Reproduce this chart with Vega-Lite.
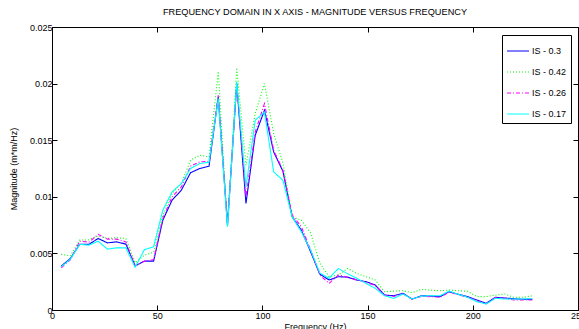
{
  "$schema": "https://vega.github.io/schema/vega-lite/v6.json",
  "width": 526,
  "height": 283,
  "autosize": {"type": "none"},
  "padding": {"left": 52, "top": 27, "right": 1, "bottom": 19},
  "background": "white",
  "title": {"text": "FREQUENCY DOMAIN IN X AXIS - MAGNITUDE VERSUS FREQUENCY", "font": "Liberation Sans", "fontSize": 9.2, "fontWeight": "normal", "color": "black", "offset": 6, "anchor": "middle"},
  "config": {
    "view": {"stroke": "black", "strokeWidth": 1},
    "axis": {"labelFont": "Liberation Sans", "labelFontSize": 9, "labelColor": "black", "titleFont": "Liberation Sans", "titleFontSize": 9, "titleFontWeight": "normal", "titleColor": "black", "domainColor": "black", "tickColor": "black", "grid": false, "tickSize": -5, "labelPadding": 4, "labelFlush": false}
  },
  "datasets": {
    "pts": [
      {"f":4.39,"s":"IS - 0.3","m":0.00388},{"f":8.78,"s":"IS - 0.3","m":0.00456},{"f":13.17,"s":"IS - 0.3","m":0.0058},{"f":17.56,"s":"IS - 0.3","m":0.0058},{"f":21.95,"s":"IS - 0.3","m":0.00632},{"f":26.34,"s":"IS - 0.3","m":0.00593},{"f":30.73,"s":"IS - 0.3","m":0.00602},{"f":35.12,"s":"IS - 0.3","m":0.00582},{"f":39.51,"s":"IS - 0.3","m":0.0039},{"f":43.9,"s":"IS - 0.3","m":0.00432},{"f":48.29,"s":"IS - 0.3","m":0.00432},{"f":52.68,"s":"IS - 0.3","m":0.00794},{"f":57.07,"s":"IS - 0.3","m":0.0097},{"f":61.46,"s":"IS - 0.3","m":0.01058},{"f":65.85,"s":"IS - 0.3","m":0.01213},{"f":70.24,"s":"IS - 0.3","m":0.0125},{"f":74.63,"s":"IS - 0.3","m":0.0127},{"f":79.02,"s":"IS - 0.3","m":0.01881},{"f":83.41,"s":"IS - 0.3","m":0.0075},{"f":87.8,"s":"IS - 0.3","m":0.02},{"f":92.19,"s":"IS - 0.3","m":0.00941},{"f":96.58,"s":"IS - 0.3","m":0.01543},{"f":100.97,"s":"IS - 0.3","m":0.01764},{"f":105.36,"s":"IS - 0.3","m":0.01396},{"f":109.75,"s":"IS - 0.3","m":0.01226},{"f":114.14,"s":"IS - 0.3","m":0.00823},{"f":118.53,"s":"IS - 0.3","m":0.00705},{"f":122.92,"s":"IS - 0.3","m":0.00514},{"f":127.31,"s":"IS - 0.3","m":0.00317},{"f":131.7,"s":"IS - 0.3","m":0.00265},{"f":136.09,"s":"IS - 0.3","m":0.00294},{"f":140.48,"s":"IS - 0.3","m":0.0029},{"f":144.87,"s":"IS - 0.3","m":0.00265},{"f":149.26,"s":"IS - 0.3","m":0.0025},{"f":153.65,"s":"IS - 0.3","m":0.00221},{"f":158.04,"s":"IS - 0.3","m":0.00132},{"f":162.43,"s":"IS - 0.3","m":0.00126},{"f":166.82,"s":"IS - 0.3","m":0.00147},{"f":171.21,"s":"IS - 0.3","m":0.00097},{"f":175.6,"s":"IS - 0.3","m":0.00126},{"f":179.99,"s":"IS - 0.3","m":0.00123},{"f":184.38,"s":"IS - 0.3","m":0.00118},{"f":188.77,"s":"IS - 0.3","m":0.00162},{"f":193.16,"s":"IS - 0.3","m":0.00138},{"f":197.55,"s":"IS - 0.3","m":0.00118},{"f":201.94,"s":"IS - 0.3","m":0.00088},{"f":206.33,"s":"IS - 0.3","m":0.00059},{"f":210.72,"s":"IS - 0.3","m":0.00112},{"f":215.11,"s":"IS - 0.3","m":0.00106},{"f":219.5,"s":"IS - 0.3","m":0.001},{"f":223.89,"s":"IS - 0.3","m":0.00094},{"f":228.28,"s":"IS - 0.3","m":0.00094},
      {"f":4.39,"s":"IS - 0.42","m":0.00491},{"f":8.78,"s":"IS - 0.42","m":0.00479},{"f":13.17,"s":"IS - 0.42","m":0.00617},{"f":17.56,"s":"IS - 0.42","m":0.0062},{"f":21.95,"s":"IS - 0.42","m":0.00655},{"f":26.34,"s":"IS - 0.42","m":0.00632},{"f":30.73,"s":"IS - 0.42","m":0.00638},{"f":35.12,"s":"IS - 0.42","m":0.00632},{"f":39.51,"s":"IS - 0.42","m":0.00417},{"f":43.9,"s":"IS - 0.42","m":0.00485},{"f":48.29,"s":"IS - 0.42","m":0.0051},{"f":52.68,"s":"IS - 0.42","m":0.00838},{"f":57.07,"s":"IS - 0.42","m":0.01029},{"f":61.46,"s":"IS - 0.42","m":0.01117},{"f":65.85,"s":"IS - 0.42","m":0.01323},{"f":70.24,"s":"IS - 0.42","m":0.01367},{"f":74.63,"s":"IS - 0.42","m":0.01352},{"f":79.02,"s":"IS - 0.42","m":0.02108},{"f":83.41,"s":"IS - 0.42","m":0.00735},{"f":87.8,"s":"IS - 0.42","m":0.0214},{"f":92.19,"s":"IS - 0.42","m":0.01279},{"f":96.58,"s":"IS - 0.42","m":0.01735},{"f":100.97,"s":"IS - 0.42","m":0.02},{"f":105.36,"s":"IS - 0.42","m":0.01558},{"f":109.75,"s":"IS - 0.42","m":0.013},{"f":114.14,"s":"IS - 0.42","m":0.0082},{"f":118.53,"s":"IS - 0.42","m":0.00794},{"f":122.92,"s":"IS - 0.42","m":0.0068},{"f":127.31,"s":"IS - 0.42","m":0.00414},{"f":131.7,"s":"IS - 0.42","m":0.00294},{"f":136.09,"s":"IS - 0.42","m":0.00309},{"f":140.48,"s":"IS - 0.42","m":0.00367},{"f":144.87,"s":"IS - 0.42","m":0.00323},{"f":149.26,"s":"IS - 0.42","m":0.00294},{"f":153.65,"s":"IS - 0.42","m":0.00265},{"f":158.04,"s":"IS - 0.42","m":0.00162},{"f":162.43,"s":"IS - 0.42","m":0.00167},{"f":166.82,"s":"IS - 0.42","m":0.0017},{"f":171.21,"s":"IS - 0.42","m":0.00153},{"f":175.6,"s":"IS - 0.42","m":0.00182},{"f":179.99,"s":"IS - 0.42","m":0.00176},{"f":184.38,"s":"IS - 0.42","m":0.0017},{"f":188.77,"s":"IS - 0.42","m":0.00176},{"f":193.16,"s":"IS - 0.42","m":0.0017},{"f":197.55,"s":"IS - 0.42","m":0.00165},{"f":201.94,"s":"IS - 0.42","m":0.00118},{"f":206.33,"s":"IS - 0.42","m":0.00118},{"f":210.72,"s":"IS - 0.42","m":0.00132},{"f":215.11,"s":"IS - 0.42","m":0.00141},{"f":219.5,"s":"IS - 0.42","m":0.00112},{"f":223.89,"s":"IS - 0.42","m":0.00112},{"f":228.28,"s":"IS - 0.42","m":0.00126},
      {"f":4.39,"s":"IS - 0.26","m":0.00373},{"f":8.78,"s":"IS - 0.26","m":0.00445},{"f":13.17,"s":"IS - 0.26","m":0.00608},{"f":17.56,"s":"IS - 0.26","m":0.006},{"f":21.95,"s":"IS - 0.26","m":0.00668},{"f":26.34,"s":"IS - 0.26","m":0.00626},{"f":30.73,"s":"IS - 0.26","m":0.00626},{"f":35.12,"s":"IS - 0.26","m":0.00602},{"f":39.51,"s":"IS - 0.26","m":0.00388},{"f":43.9,"s":"IS - 0.26","m":0.0043},{"f":48.29,"s":"IS - 0.26","m":0.00445},{"f":52.68,"s":"IS - 0.26","m":0.00809},{"f":57.07,"s":"IS - 0.26","m":0.01},{"f":61.46,"s":"IS - 0.26","m":0.01087},{"f":65.85,"s":"IS - 0.26","m":0.0127},{"f":70.24,"s":"IS - 0.26","m":0.01308},{"f":74.63,"s":"IS - 0.26","m":0.01314},{"f":79.02,"s":"IS - 0.26","m":0.01896},{"f":83.41,"s":"IS - 0.26","m":0.0076},{"f":87.8,"s":"IS - 0.26","m":0.02},{"f":92.19,"s":"IS - 0.26","m":0.01},{"f":96.58,"s":"IS - 0.26","m":0.01572},{"f":100.97,"s":"IS - 0.26","m":0.01823},{"f":105.36,"s":"IS - 0.26","m":0.01411},{"f":109.75,"s":"IS - 0.26","m":0.01235},{"f":114.14,"s":"IS - 0.26","m":0.0084},{"f":118.53,"s":"IS - 0.26","m":0.00735},{"f":122.92,"s":"IS - 0.26","m":0.0053},{"f":127.31,"s":"IS - 0.26","m":0.00309},{"f":131.7,"s":"IS - 0.26","m":0.00235},{"f":136.09,"s":"IS - 0.26","m":0.00309},{"f":140.48,"s":"IS - 0.26","m":0.0029},{"f":144.87,"s":"IS - 0.26","m":0.00265},{"f":149.26,"s":"IS - 0.26","m":0.00245},{"f":153.65,"s":"IS - 0.26","m":0.00215},{"f":158.04,"s":"IS - 0.26","m":0.00132},{"f":162.43,"s":"IS - 0.26","m":0.0012},{"f":166.82,"s":"IS - 0.26","m":0.00141},{"f":171.21,"s":"IS - 0.26","m":0.00094},{"f":175.6,"s":"IS - 0.26","m":0.0012},{"f":179.99,"s":"IS - 0.26","m":0.00118},{"f":184.38,"s":"IS - 0.26","m":0.00112},{"f":188.77,"s":"IS - 0.26","m":0.00158},{"f":193.16,"s":"IS - 0.26","m":0.00135},{"f":197.55,"s":"IS - 0.26","m":0.00112},{"f":201.94,"s":"IS - 0.26","m":0.00082},{"f":206.33,"s":"IS - 0.26","m":0.00053},{"f":210.72,"s":"IS - 0.26","m":0.00109},{"f":215.11,"s":"IS - 0.26","m":0.00103},{"f":219.5,"s":"IS - 0.26","m":0.00088},{"f":223.89,"s":"IS - 0.26","m":0.00088},{"f":228.28,"s":"IS - 0.26","m":0.00088},
      {"f":4.39,"s":"IS - 0.17","m":0.00382},{"f":8.78,"s":"IS - 0.17","m":0.0045},{"f":13.17,"s":"IS - 0.17","m":0.0058},{"f":17.56,"s":"IS - 0.17","m":0.00573},{"f":21.95,"s":"IS - 0.17","m":0.00608},{"f":26.34,"s":"IS - 0.17","m":0.00538},{"f":30.73,"s":"IS - 0.17","m":0.00549},{"f":35.12,"s":"IS - 0.17","m":0.00549},{"f":39.51,"s":"IS - 0.17","m":0.00377},{"f":43.9,"s":"IS - 0.17","m":0.00533},{"f":48.29,"s":"IS - 0.17","m":0.00558},{"f":52.68,"s":"IS - 0.17","m":0.00882},{"f":57.07,"s":"IS - 0.17","m":0.01043},{"f":61.46,"s":"IS - 0.17","m":0.01117},{"f":65.85,"s":"IS - 0.17","m":0.0125},{"f":70.24,"s":"IS - 0.17","m":0.01294},{"f":74.63,"s":"IS - 0.17","m":0.01305},{"f":79.02,"s":"IS - 0.17","m":0.01867},{"f":83.41,"s":"IS - 0.17","m":0.00735},{"f":87.8,"s":"IS - 0.17","m":0.02013},{"f":92.19,"s":"IS - 0.17","m":0.01087},{"f":96.58,"s":"IS - 0.17","m":0.01676},{"f":100.97,"s":"IS - 0.17","m":0.01749},{"f":105.36,"s":"IS - 0.17","m":0.0122},{"f":109.75,"s":"IS - 0.17","m":0.01146},{"f":114.14,"s":"IS - 0.17","m":0.00823},{"f":118.53,"s":"IS - 0.17","m":0.0069},{"f":122.92,"s":"IS - 0.17","m":0.00529},{"f":127.31,"s":"IS - 0.17","m":0.00326},{"f":131.7,"s":"IS - 0.17","m":0.0028},{"f":136.09,"s":"IS - 0.17","m":0.00367},{"f":140.48,"s":"IS - 0.17","m":0.0032},{"f":144.87,"s":"IS - 0.17","m":0.0028},{"f":149.26,"s":"IS - 0.17","m":0.00235},{"f":153.65,"s":"IS - 0.17","m":0.00191},{"f":158.04,"s":"IS - 0.17","m":0.00126},{"f":162.43,"s":"IS - 0.17","m":0.00103},{"f":166.82,"s":"IS - 0.17","m":0.00141},{"f":171.21,"s":"IS - 0.17","m":0.00097},{"f":175.6,"s":"IS - 0.17","m":0.00123},{"f":179.99,"s":"IS - 0.17","m":0.00126},{"f":184.38,"s":"IS - 0.17","m":0.00126},{"f":188.77,"s":"IS - 0.17","m":0.00167},{"f":193.16,"s":"IS - 0.17","m":0.00138},{"f":197.55,"s":"IS - 0.17","m":0.00112},{"f":201.94,"s":"IS - 0.17","m":0.00073},{"f":206.33,"s":"IS - 0.17","m":0.00053},{"f":210.72,"s":"IS - 0.17","m":0.00103},{"f":215.11,"s":"IS - 0.17","m":0.00097},{"f":219.5,"s":"IS - 0.17","m":0.00097},{"f":223.89,"s":"IS - 0.17","m":0.00097},{"f":228.28,"s":"IS - 0.17","m":0.001}
    ]
  },
  "data": {"name": "pts"},
  "layer": [
    {
      "mark": {"type": "line", "strokeWidth": 1.1, "clip": true},
      "encoding": {
        "x": {"field": "f", "type": "quantitative", "scale": {"domain": [0, 250], "nice": false}, "axis": {"values": [0, 50, 100, 150, 200, 250], "title": "Frequency (Hz)", "titlePadding": 2, "labelPadding": 6}},
        "y": {"field": "m", "type": "quantitative", "scale": {"domain": [0, 0.025], "nice": false}, "axis": {"values": [0, 0.005, 0.01, 0.015, 0.02, 0.025], "format": "~g", "title": "Magnitude (m*m/Hz)", "titlePadding": 11, "labelPadding": 5}},
        "color": {"field": "s", "type": "nominal", "scale": {"domain": ["IS - 0.3", "IS - 0.42", "IS - 0.26", "IS - 0.17"], "range": ["#0000FF", "#00FF00", "#FF00FF", "#00FFFF"]}, "legend": {"title": null, "orient": "none", "legendX": 450, "legendY": 8, "symbolType": "stroke", "symbolSize": 484, "symbolStrokeWidth": 1.2, "labelFont": "Liberation Sans", "labelFontSize": 9, "labelColor": "black", "labelOffset": 2, "rowPadding": 4, "padding": 4, "strokeColor": "black", "fillColor": "white"}},
        "strokeDash": {"field": "s", "type": "nominal", "scale": {"domain": ["IS - 0.3", "IS - 0.42", "IS - 0.26", "IS - 0.17"], "range": [[1, 0], [1, 2], [4, 2, 1, 2], [1, 0]]}, "legend": null}
      }
    },
    {
      "mark": {"type": "line", "opacity": 0},
      "encoding": {
        "x": {"field": "f", "type": "quantitative", "scale": {"domain": [0, 250], "nice": false}, "axis": {"orient": "top", "values": [0, 50, 100, 150, 200, 250], "labels": false, "title": null, "domain": false}},
        "y": {"field": "m", "type": "quantitative", "scale": {"domain": [0, 0.025], "nice": false}, "axis": {"orient": "right", "values": [0, 0.005, 0.01, 0.015, 0.02, 0.025], "labels": false, "title": null, "domain": false}}
      }
    }
  ],
  "resolve": {"axis": {"x": "independent", "y": "independent"}}
}
